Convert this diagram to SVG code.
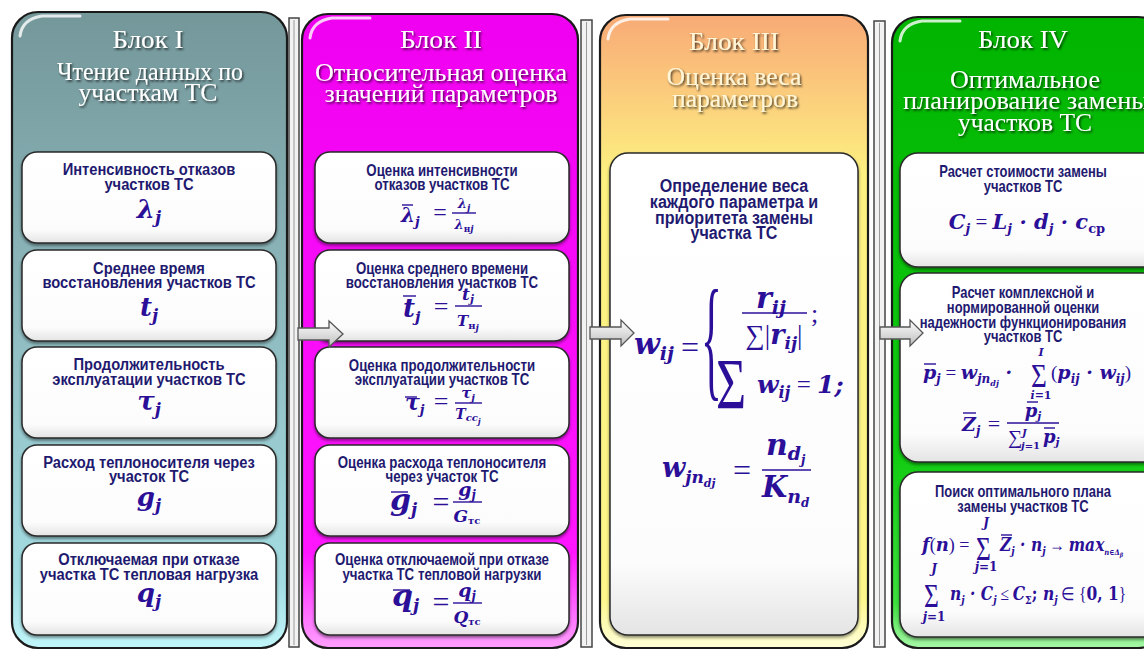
<svg xmlns="http://www.w3.org/2000/svg" width="1144" height="652" viewBox="0 0 1144 652">
<defs>
<style>
.blk{stroke:#1a1a1a;stroke-width:2.2}
.box{fill:url(#gBox);stroke:#2a2a2a;stroke-width:1.5;filter:url(#bsh)}
.bar{fill:#f2f2f2;stroke:#444;stroke-width:1.5}
.barin{fill:none;stroke:#9a9a9a;stroke-width:1}
.hdr{font-family:"Liberation Serif","Times New Roman",serif;font-size:25px;fill:#ffffff;text-anchor:middle;filter:url(#tsh)}
.hdr3{fill:#fff6d8}
.lbl{font-family:"Liberation Sans",Arial,sans-serif;font-weight:bold;font-size:16px;fill:#1f1a70;text-anchor:middle}
.lbl3{font-size:18.5px}
.f{font-family:"DejaVu Serif",serif;font-style:italic;font-weight:bold;fill:#2b0f98}
.fu{font-family:"Liberation Serif",serif;font-style:normal;font-weight:normal;fill:#2b0f98}
.up{font-style:normal}
.ln{stroke:#2b0f98;stroke-width:1.4;fill:none}
.arr{fill:url(#gArr);stroke:#555;stroke-width:1.3}
.gloss{fill:none;stroke:#ffffff;stroke-opacity:0.8;stroke-width:3;stroke-linecap:round}
</style>
<linearGradient id="gI" x1="0" y1="0" x2="0" y2="1">
<stop offset="0" stop-color="#74979a"/><stop offset="0.45" stop-color="#8db8bc"/><stop offset="0.9" stop-color="#a3dde3"/><stop offset="1" stop-color="#c0f6fa"/>
</linearGradient>
<linearGradient id="gII" x1="0" y1="0" x2="0" y2="1">
<stop offset="0" stop-color="#f000f0"/><stop offset="0.85" stop-color="#ff16ff"/><stop offset="1" stop-color="#ffa0ff"/>
</linearGradient>
<linearGradient id="gIII" x1="0" y1="0" x2="0" y2="1">
<stop offset="0" stop-color="#f8aa76"/><stop offset="0.12" stop-color="#fbcb7c"/><stop offset="0.25" stop-color="#fcf080"/><stop offset="0.92" stop-color="#fdf68a"/><stop offset="1" stop-color="#ffffd8"/>
</linearGradient>
<linearGradient id="gIV" x1="0" y1="0" x2="0" y2="1">
<stop offset="0" stop-color="#00b400"/><stop offset="0.7" stop-color="#12cc12"/><stop offset="0.93" stop-color="#3ee03e"/><stop offset="1" stop-color="#a8f8a8"/>
</linearGradient>
<linearGradient id="gBox" x1="0" y1="0" x2="0" y2="1">
<stop offset="0" stop-color="#ffffff"/><stop offset="0.85" stop-color="#fcfcfc"/><stop offset="1" stop-color="#e4e4e4"/>
</linearGradient>
<linearGradient id="gArr" x1="0" y1="0" x2="0" y2="1">
<stop offset="0" stop-color="#ffffff"/><stop offset="1" stop-color="#bdbdbd"/>
</linearGradient>
<filter id="tsh" x="-10%" y="-30%" width="120%" height="160%">
<feDropShadow dx="1.3" dy="1.6" stdDeviation="0.8" flood-color="#000" flood-opacity="0.75"/>
</filter>
<filter id="bsh" x="-5%" y="-5%" width="110%" height="115%">
<feDropShadow dx="0" dy="2" stdDeviation="1.4" flood-color="#000" flood-opacity="0.45"/>
</filter>
</defs>
<rect x="0" y="0" width="1144" height="652" fill="#ffffff"/>

<g id="separators">
<rect class="bar" x="289" y="18" width="10" height="629"/><line class="barin" x1="294" y1="20" x2="294" y2="645"/>
<rect class="bar" x="581" y="20" width="11" height="627"/><line class="barin" x1="586.5" y1="22" x2="586.5" y2="645"/>
<rect class="bar" x="874" y="21" width="11" height="626"/><line class="barin" x1="879.5" y1="23" x2="879.5" y2="645"/>
</g>

<g id="block1">
<rect class="blk" x="12" y="12" width="275" height="636" rx="26" fill="url(#gI)"/>
<path class="gloss" d="M20,36 Q22,19 42,16 H80"/>
<text class="hdr" x="148" y="48" textLength="71" lengthAdjust="spacingAndGlyphs">Блок I</text>
<text class="hdr" x="150" y="80" textLength="186" lengthAdjust="spacingAndGlyphs">Чтение данных по</text>
<text class="hdr" x="148" y="101" textLength="139" lengthAdjust="spacingAndGlyphs">участкам ТС</text>
<g id="b1n1"><rect class="box" x="22" y="152" width="254" height="91" rx="15"/>
<g transform="matrix(0.92 0 0 1 11.92 0)"><text class="lbl" x="149" y="175">Интенсивность отказов</text><text class="lbl" x="149" y="190">участков ТС</text></g>
<text class="f" x="149" y="218" font-size="26" text-anchor="middle">λ<tspan font-size="17" dy="5">j</tspan></text></g>
<g id="b1n2"><rect class="box" x="22" y="250" width="254" height="91" rx="15"/>
<g transform="matrix(0.92 0 0 1 11.92 0)"><text class="lbl" x="149" y="274">Среднее время</text><text class="lbl" x="149" y="288">восстановления участков ТС</text></g>
<text class="f" x="149" y="316" font-size="26" text-anchor="middle">t<tspan font-size="17" dy="5">j</tspan></text></g>
<g id="b1n3"><rect class="box" x="22" y="347" width="254" height="91" rx="15"/>
<g transform="matrix(0.92 0 0 1 11.92 0)"><text class="lbl" x="149" y="370">Продолжительность</text><text class="lbl" x="149" y="385">эксплуатации участков ТС</text></g>
<text class="f" x="149" y="410" font-size="26" text-anchor="middle">τ<tspan font-size="17" dy="5">j</tspan></text></g>
<g id="b1n4"><rect class="box" x="22" y="445" width="254" height="91" rx="15"/>
<g transform="matrix(0.92 0 0 1 11.92 0)"><text class="lbl" x="149" y="468">Расход теплоносителя через</text><text class="lbl" x="149" y="482">участок ТС</text></g>
<text class="f" x="149" y="506" font-size="26" text-anchor="middle">g<tspan font-size="17" dy="5">j</tspan></text></g>
<g id="b1n5"><rect class="box" x="22" y="543" width="254" height="92" rx="15"/>
<g transform="matrix(0.92 0 0 1 11.92 0)"><text class="lbl" x="149" y="565">Отключаемая при отказе</text><text class="lbl" x="149" y="580">участка ТС тепловая нагрузка</text></g>
<text class="f" x="149" y="602" font-size="26" text-anchor="middle">q<tspan font-size="17" dy="5">j</tspan></text></g>
</g>

<g id="block2">
<rect class="blk" x="302" y="14" width="276" height="634" rx="26" fill="url(#gII)"/>
<path class="gloss" d="M310,38 Q312,21 332,18 H370"/>
<text class="hdr" x="441" y="48" textLength="82" lengthAdjust="spacingAndGlyphs">Блок II</text>
<text class="hdr" x="441" y="81" textLength="252" lengthAdjust="spacingAndGlyphs">Относительная оценка</text>
<text class="hdr" x="441" y="102" textLength="233" lengthAdjust="spacingAndGlyphs">значений параметров</text>
<g id="b2n1"><rect class="box" x="315" y="152" width="254" height="91" rx="15"/>
<g transform="matrix(0.83 0 0 1 75.14 0)"><text class="lbl" x="442" y="176">Оценка интенсивности</text><text class="lbl" x="442" y="190">отказов участков ТС</text></g>
<text class="f" x="401" y="222" font-size="20">λ<tspan font-size="13" dy="4">j</tspan></text>
<line class="ln" x1="402" y1="205" x2="413" y2="205"/>
<text class="fu" x="440" y="220" font-size="24" text-anchor="middle">=</text>
<line class="ln" x1="452" y1="213" x2="476" y2="213"/>
<text class="f" x="464" y="208" font-size="13" text-anchor="middle">λ<tspan font-size="9" dy="3">j</tspan></text>
<text class="f" x="464" y="229" font-size="13" text-anchor="middle">λ<tspan font-size="9" dy="3" class="up">н</tspan><tspan font-size="9">j</tspan></text></g>
<g id="b2n2"><rect class="box" x="315" y="250" width="254" height="91" rx="15"/>
<g transform="matrix(0.83 0 0 1 75.14 0)"><text class="lbl" x="442" y="274">Оценка среднего времени</text><text class="lbl" x="442" y="288">восстановления участков ТС</text></g>
<text class="f" x="403" y="317" font-size="26">t<tspan font-size="15" dy="5">j</tspan></text>
<line class="ln" x1="403" y1="296" x2="416" y2="296"/>
<text class="fu" x="441" y="315" font-size="26" text-anchor="middle">=</text>
<line class="ln" x1="455" y1="306" x2="482" y2="306"/>
<text class="f" x="468" y="300" font-size="17" text-anchor="middle">t<tspan font-size="11" dy="3">j</tspan></text>
<text class="f" x="468" y="326" font-size="15" text-anchor="middle">T<tspan font-size="10" dy="3" class="up">н</tspan><tspan font-size="9" dy="2">j</tspan></text></g>
<g id="b2n3"><rect class="box" x="315" y="347" width="254" height="91" rx="15"/>
<g transform="matrix(0.83 0 0 1 75.14 0)"><text class="lbl" x="442" y="371">Оценка продолжительности</text><text class="lbl" x="442" y="385">эксплуатации участков ТС</text></g>
<text class="f" x="405" y="410" font-size="22">τ<tspan font-size="13" dy="4">j</tspan></text>
<line class="ln" x1="405" y1="397" x2="417" y2="397"/>
<text class="fu" x="441" y="410" font-size="26" text-anchor="middle">=</text>
<line class="ln" x1="455" y1="403" x2="482" y2="403"/>
<text class="f" x="468" y="398" font-size="15" text-anchor="middle">τ<tspan font-size="10" dy="3">j</tspan></text>
<text class="f" x="468" y="419" font-size="14" text-anchor="middle">T<tspan font-size="10" dy="2">cc</tspan><tspan font-size="8" dy="3">j</tspan></text></g>
<g id="b2n4"><rect class="box" x="315" y="445" width="254" height="91" rx="15"/>
<g transform="matrix(0.83 0 0 1 75.14 0)"><text class="lbl" x="442" y="468">Оценка расхода теплоносителя</text><text class="lbl" x="442" y="482">через участок ТС</text></g>
<text class="f" x="390" y="510" font-size="30">g<tspan font-size="17" dy="5">j</tspan></text>
<line class="ln" x1="391" y1="492" x2="408" y2="492" stroke-width="1.8"/>
<text class="fu" x="441" y="512" font-size="30" text-anchor="middle">=</text>
<line class="ln" x1="453" y1="502" x2="482" y2="502"/>
<text class="f" x="467" y="496" font-size="19" text-anchor="middle">g<tspan font-size="12" dy="3">j</tspan></text>
<text class="f" x="467" y="522" font-size="17" text-anchor="middle">G<tspan font-size="10" dy="2" class="up">тс</tspan></text></g>
<g id="b2n5"><rect class="box" x="315" y="543" width="254" height="92" rx="15"/>
<g transform="matrix(0.83 0 0 1 75.14 0)"><text class="lbl" x="442" y="565">Оценка отключаемой при отказе</text><text class="lbl" x="442" y="580">участка ТС тепловой нагрузки</text></g>
<text class="f" x="392" y="606" font-size="30">q<tspan font-size="17" dy="5">j</tspan></text>
<line class="ln" x1="393" y1="590" x2="410" y2="590" stroke-width="1.8"/>
<text class="fu" x="441" y="612" font-size="30" text-anchor="middle">=</text>
<line class="ln" x1="453" y1="603" x2="482" y2="603"/>
<text class="f" x="467" y="597" font-size="19" text-anchor="middle">q<tspan font-size="12" dy="3">j</tspan></text>
<text class="f" x="467" y="623" font-size="17" text-anchor="middle">Q<tspan font-size="10" dy="2" class="up">тс</tspan></text></g>
</g>

<g id="block3">
<rect class="blk" x="600" y="15" width="268" height="633" rx="26" fill="url(#gIII)"/>
<path class="gloss" d="M608,39 Q610,22 630,19 H668"/>
<text class="hdr hdr3" x="734" y="50" textLength="90" lengthAdjust="spacingAndGlyphs">Блок III</text>
<text class="hdr hdr3" x="734" y="85" textLength="135" lengthAdjust="spacingAndGlyphs">Оценка веса</text>
<text class="hdr hdr3" x="735" y="107" textLength="126" lengthAdjust="spacingAndGlyphs">параметров</text>
<g id="b3n1"><rect class="box" x="610" y="153" width="248" height="482" rx="18"/>
<g transform="matrix(0.87 0 0 1 95.42 0)">
<text class="lbl lbl3" x="734" y="192">Определение веса</text>
<text class="lbl lbl3" x="734" y="208">каждого параметра и</text>
<text class="lbl lbl3" x="734" y="224">приоритета замены</text>
<text class="lbl lbl3" x="734" y="239">участка ТС</text></g>
<text class="f" x="634" y="354" font-size="30">w<tspan font-size="19" dy="6">ij</tspan></text>
<text class="fu" x="690" y="358" font-size="32" text-anchor="middle">=</text>
<text class="fu" transform="translate(701,383) scale(0.32,1)" font-size="136">{</text>
<text class="f" x="771" y="308" font-size="30" text-anchor="middle">r<tspan font-size="19" dy="6">ij</tspan></text>
<line class="ln" x1="742" y1="313" x2="807" y2="313" stroke-width="1.6"/>
<text class="f" x="774" y="344" font-size="27" text-anchor="middle"><tspan class="up" font-family="Liberation Serif" font-weight="normal">∑|</tspan>r<tspan font-size="17" dy="5">ij</tspan><tspan dy="-5" class="up" font-family="Liberation Serif" font-weight="normal">|</tspan></text>
<text class="fu" x="811" y="322" font-size="26">;</text>
<text class="fu" transform="translate(716,408) scale(0.72,1)" font-size="72">Σ</text>
<text class="f" x="757" y="393" font-size="25">w<tspan font-size="16" dy="5">ij</tspan><tspan dy="-5" class="up" font-family="Liberation Serif" font-weight="normal"> = </tspan>1;</text>
<text class="f" x="662" y="477" font-size="27">w<tspan font-size="17" dy="6">jn</tspan><tspan font-size="11" dy="4">dj</tspan></text>
<text class="fu" x="742" y="481" font-size="32" text-anchor="middle">=</text>
<line class="ln" x1="762" y1="470" x2="811" y2="470" stroke-width="1.6"/>
<text class="f" x="766" y="455" font-size="30">n<tspan font-size="19" dy="5">d</tspan><tspan font-size="12" dy="4">j</tspan></text>
<text class="f" x="762" y="497" font-size="29">K<tspan font-size="19" dy="6">n</tspan><tspan font-size="12" dy="4">d</tspan></text>
</g>
</g>

<g id="block4">
<rect class="blk" x="892" y="17" width="272" height="631" rx="26" fill="url(#gIV)"/>
<path class="gloss" d="M900,41 Q902,24 922,21 H960"/>
<text class="hdr" x="1023" y="48" textLength="90" lengthAdjust="spacingAndGlyphs">Блок IV</text>
<text class="hdr" x="1025" y="88" textLength="150" lengthAdjust="spacingAndGlyphs">Оптимальное</text>
<text class="hdr" x="1026" y="109" textLength="246" lengthAdjust="spacingAndGlyphs">планирование замены</text>
<text class="hdr" x="1025" y="131" textLength="134" lengthAdjust="spacingAndGlyphs">участков ТС</text>
<g id="b4n1"><rect class="box" x="900" y="153" width="262" height="114" rx="18"/>
<g transform="matrix(0.81 0 0 1 194.37 0)"><text class="lbl" x="1023" y="177">Расчет стоимости замены</text><text class="lbl" x="1023" y="192">участков ТС</text></g>
<text class="f" x="1027" y="229" font-size="21" text-anchor="middle">C<tspan font-size="13" dy="4">j</tspan><tspan dy="-4" class="up" font-family="Liberation Serif" font-weight="normal"> = </tspan>L<tspan font-size="13" dy="4">j</tspan><tspan dy="-4"> · </tspan>d<tspan font-size="13" dy="4">j</tspan><tspan dy="-4"> · </tspan>c<tspan font-size="13" dy="4" class="up">ср</tspan></text></g>
<g id="b4n2"><rect class="box" x="900" y="273" width="262" height="189" rx="18"/>
<g transform="matrix(0.81 0 0 1 194.37 0)"><text class="lbl" x="1023" y="298">Расчет комплексной и</text><text class="lbl" x="1023" y="313">нормированной оценки</text>
<text class="lbl" x="1023" y="328">надежности функционирования</text><text class="lbl" x="1023" y="342">участков ТС</text></g>
<text class="f" x="923" y="379" font-size="19">p<tspan font-size="12" dy="4">j</tspan><tspan dy="-4" class="up" font-family="Liberation Serif" font-weight="normal"> = </tspan>w<tspan font-size="12" dy="4">jn</tspan><tspan font-size="8" dy="3">dj</tspan><tspan dy="-7"> ·</tspan></text>
<line class="ln" x1="924" y1="364" x2="936" y2="364"/>
<text class="fu" transform="translate(1031,387) scale(0.8,1)" font-size="34">Σ</text>
<text class="f" x="1041" y="356" font-size="11" text-anchor="middle">I</text>
<text class="f" x="1041" y="399" font-size="11" text-anchor="middle">i<tspan class="up">=1</tspan></text>
<text class="f" x="1051" y="379" font-size="19"><tspan class="up" font-family="Liberation Serif" font-weight="normal">(</tspan>p<tspan font-size="12" dy="4">ij</tspan><tspan dy="-4"> · </tspan>w<tspan font-size="12" dy="4">ij</tspan><tspan dy="-4" class="up" font-family="Liberation Serif" font-weight="normal">)</tspan></text>
<text class="f" x="962" y="431" font-size="19">Z<tspan font-size="12" dy="4">j</tspan></text>
<line class="ln" x1="963" y1="413" x2="976" y2="413"/>
<text class="fu" x="994" y="431" font-size="22" text-anchor="middle">=</text>
<line class="ln" x1="1007" y1="423" x2="1059" y2="423"/>
<text class="f" x="1033" y="417" font-size="18" text-anchor="middle">p<tspan font-size="11" dy="3">j</tspan></text>
<line class="ln" x1="1027" y1="402" x2="1038" y2="402"/>
<text class="fu" x="1008" y="444" font-size="20">∑</text>
<text class="f" x="1022" y="436" font-size="10">J</text>
<text class="f" x="1021" y="449" font-size="10">j<tspan class="up">=1</tspan></text>
<text class="f" x="1043" y="443" font-size="18">p<tspan font-size="11" dy="3">j</tspan></text>
<line class="ln" x1="1044" y1="428" x2="1055" y2="428"/>
</g>
<g id="b4n3"><rect class="box" x="900" y="472" width="262" height="165" rx="18"/>
<g transform="matrix(0.81 0 0 1 194.37 0)"><text class="lbl" x="1023" y="497">Поиск оптимального плана</text><text class="lbl" x="1023" y="512">замены участков ТС</text></g>
<text class="f" x="922" y="551" font-size="18">f<tspan class="up" font-family="Liberation Serif" font-weight="normal">(</tspan>n<tspan class="up" font-family="Liberation Serif" font-weight="normal">) =</tspan></text>
<text class="fu" transform="translate(976,560) scale(0.75,1)" font-size="34">Σ</text>
<text class="f" x="986" y="527" font-size="12" text-anchor="middle">J</text>
<text class="f" x="986" y="571" font-size="12" text-anchor="middle">j<tspan class="up">=1</tspan></text>
<text class="f" transform="translate(1000,551) scale(0.86,1)" font-size="18">Z<tspan font-size="11" dy="4">j</tspan><tspan dy="-4"> · </tspan>n<tspan font-size="11" dy="4">j</tspan><tspan dy="-4" class="up" font-family="Liberation Serif" font-weight="normal"> → </tspan>max<tspan font-size="8" dy="4">n∈Δ<tspan font-size="6" dy="2">β</tspan></tspan></text>
<line class="ln" x1="1001" y1="535" x2="1012" y2="535"/>
<text class="fu" transform="translate(924,607) scale(0.75,1)" font-size="34">Σ</text>
<text class="f" x="934" y="573" font-size="12" text-anchor="middle">J</text>
<text class="f" x="934" y="621" font-size="12" text-anchor="middle">j<tspan class="up">=1</tspan></text>
<text class="f" transform="translate(950,600) scale(0.86,1)" font-size="18">n<tspan font-size="11" dy="4">j</tspan><tspan dy="-4"> · </tspan>C<tspan font-size="11" dy="4">j</tspan><tspan dy="-4" class="up" font-family="Liberation Serif" font-weight="normal"> ≤ </tspan>C<tspan font-size="11" dy="4" class="up">Σ</tspan><tspan dy="-4" class="up">;  </tspan>n<tspan font-size="11" dy="4">j</tspan><tspan dy="-4" class="up" font-family="Liberation Serif" font-weight="normal"> ∈ {</tspan><tspan class="up">0, 1</tspan><tspan class="up" font-family="Liberation Serif" font-weight="normal">}</tspan></text>
</g>
</g>

<g id="connectors">
<path class="arr" d="M298,328 H329 V321 L343,334 L329,347 V340 H298 Z"/>
<path class="arr" d="M590,327 H621 V320 L634,333 L621,346 V339 H590 Z"/>
<path class="arr" d="M880,327 H910 V320 L923,333 L910,346 V339 H880 Z"/>
</g>
</svg>
